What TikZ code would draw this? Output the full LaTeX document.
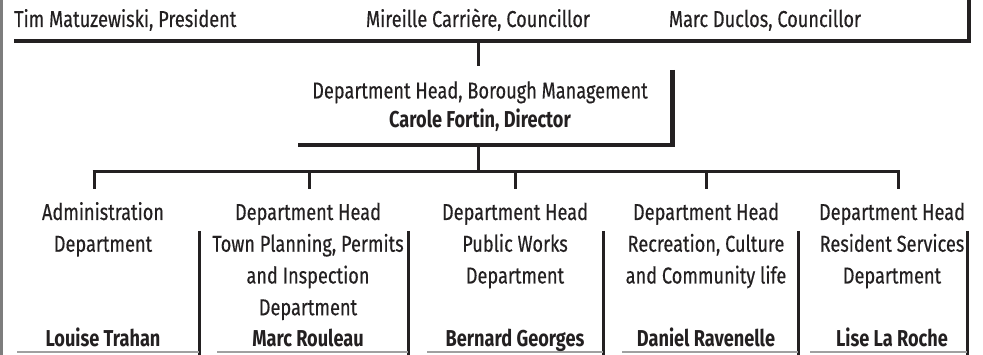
\documentclass[tikz,border=0pt]{standalone}
\usepackage{fontspec}
\setmainfont{Fira Sans}[FakeStretch=0.79, UprightFeatures={FakeBold=0.35}]
\usetikzlibrary{positioning}
\definecolor{inkgray}{RGB}{35,32,33}
\definecolor{rulegray}{RGB}{160,160,160}
\definecolor{pagegray}{RGB}{125,125,125}

\tikzset{
  box/.style={rectangle, inner sep=0pt, outer sep=0pt},
  shade/.style={line width=4.5pt, inkgray},
  link/.style={line width=3pt, inkgray},
  floor/.style={line width=1.3pt, rulegray},
  txt/.style={font=\fontsize{23}{31.75}\selectfont, text=inkgray, inner sep=0pt, align=center},
  head/.style={txt, font=\fontsize{23}{31.75}\selectfont\bfseries}
}

\begin{document}
\begin{tikzpicture}[x=1pt, y=1pt]
  \useasboundingbox (0,0) rectangle (983,355);
  \clip (0,0) rectangle (983,355);

  \draw[pagegray, line width=2.5pt] (1.5,0) -- (1.5,355);

  % borough council
  \node[box, minimum width=955, minimum height=66] (council) at (491.5,347) {};
  \draw[shade] (council.north east) -- (council.south east) -- (council.south west);
  \node[txt, anchor=base west] (president) at (14,328) {Tim Matuzewiski, President};
  \node[txt, anchor=base] (carriere) at (478,328) {Mireille Carrière, Councillor};
  \node[txt, anchor=base] (duclos) at (765,328) {Marc Duclos, Councillor};

  % borough management
  \node[box, minimum width=375, minimum height=79] (director) at (485,249.5) {};
  \draw[shade] ([yshift=-4pt]director.north east) -- (director.south east) -- (director.south west);
  \node[txt, anchor=base] (management) at (480,256.5) {Department Head, Borough Management};
  \node[head, anchor=base] (fortin) at (480,227) {Carole Fortin, Director};

  \coordinate (spine) at (478,0);
  \coordinate (bus) at (478,183);
  \draw[link] (council.south -| spine) -- (director.north -| spine);
  \draw[link] (director.south -| spine) -- (bus);

  % departments
  \node[box, minimum width=182, minimum height=190] (admin) at (108,71) {};
  \node[box, minimum width=191, minimum height=190] (planning) at (312.5,71) {};
  \node[box, minimum width=176, minimum height=190] (works) at (515,71) {};
  \node[box, minimum width=176, minimum height=190] (recreation) at (710,71) {};
  \node[box, minimum width=157, minimum height=190] (services) at (888.5,71) {};

  \draw[link] ([xshift=-15.5pt]admin.north |- bus) -- ([xshift=11pt]services.north |- bus);
  \draw[link] ([xshift=-14pt]admin.north |- bus) -- ([xshift=-14pt]admin.north);
  \draw[link] ([xshift=-3.5pt]planning.north |- bus) -- ([xshift=-3.5pt]planning.north);
  \draw[link] (works.north |- bus) -- (works.north);
  \draw[link] ([xshift=-4pt]recreation.north |- bus) -- ([xshift=-4pt]recreation.north);
  \draw[link] ([xshift=9.5pt]services.north |- bus) -- ([xshift=9.5pt]services.north);

  \draw[shade, line width=3pt] ([yshift=-42pt]admin.north east) -- (admin.south east);
  \draw[shade, line width=3pt] ([yshift=-42pt]planning.north east) -- (planning.south east);
  \draw[shade, line width=3pt] ([yshift=-42pt]works.north east) -- (works.south east);
  \draw[shade, line width=3pt] ([yshift=-42pt]recreation.north east) -- (recreation.south east);
  \draw[shade, line width=3pt] ([yshift=-42pt]services.north east) -- (services.south east);

  \draw[floor] (admin.west |- 0,3) -- (admin.east |- 0,3);
  \draw[floor] (planning.west |- 0,3) -- (planning.east |- 0,3);
  \draw[floor] (works.west |- 0,3) -- (works.east |- 0,3);
  \draw[floor] (recreation.west |- 0,3) -- (recreation.east |- 0,3);
  \draw[floor] (services.west |- 0,3) -- (services.east |- 0,3);

  % anchor=base sits on the last line of each block
  \node[txt, anchor=base] (admintxt) at (103,103.25) {Administration\\Department};
  \node[txt, anchor=base] (planningtxt) at (308,39.75) {Department Head\\Town Planning, Permits\\and Inspection\\Department};
  \node[txt, anchor=base] (workstxt) at (515,71.5) {Department Head\\Public Works\\Department};
  \node[txt, anchor=base] (recreationtxt) at (706,71.5) {Department Head\\Recreation, Culture\\and Community life};
  \node[txt, anchor=base] (servicestxt) at (892,71.5) {Department Head\\Resident Services\\Department};

  \node[head, anchor=base] (trahan) at (103,8) {Louise Trahan};
  \node[head, anchor=base] (rouleau) at (308,8) {Marc Rouleau};
  \node[head, anchor=base] (georges) at (515,8) {Bernard Georges};
  \node[head, anchor=base] (ravenelle) at (706,8) {Daniel Ravenelle};
  \node[head, anchor=base] (laroche) at (892,8) {Lise La Roche};
\end{tikzpicture}
\end{document}
